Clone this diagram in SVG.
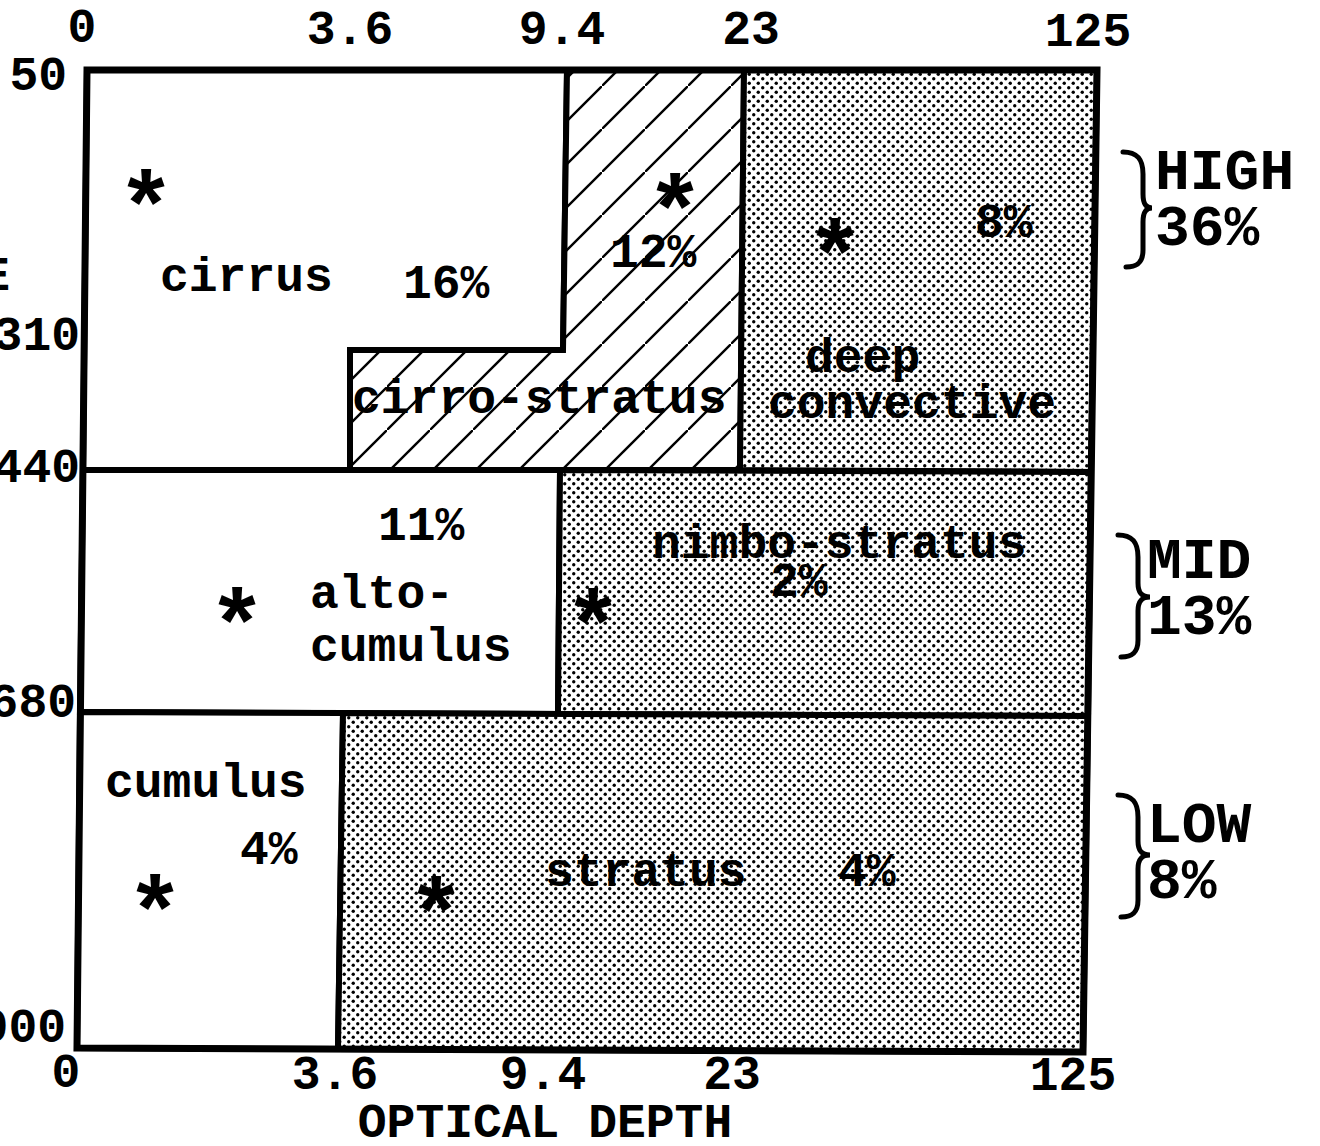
<svg xmlns="http://www.w3.org/2000/svg" width="1320" height="1146" viewBox="0 0 1320 1146">
<style>
text{font-family:"Liberation Mono","Courier New",monospace;font-weight:bold;fill:#000}
.lbl{font-size:48px}
.ax{font-size:48px}
.big{font-size:58px}
.star{font-size:96px;text-anchor:middle}
.reg{stroke:#000;stroke-width:6;stroke-linejoin:miter}
.brace{fill:none;stroke:#000;stroke-width:5;stroke-linecap:round}
</style>
<defs>
<pattern id="dots" width="9" height="9" patternUnits="userSpaceOnUse">
<rect width="9" height="9" fill="#fff"/>
<circle cx="2.25" cy="2.25" r="1.7" fill="#000"/>
<circle cx="6.75" cy="6.75" r="1.7" fill="#000"/>
</pattern>
<pattern id="hatch" width="43" height="43" patternUnits="userSpaceOnUse">
<rect width="43" height="43" fill="#fff"/>
<path d="M-5,48 L48,-5" stroke="#000" stroke-width="2.4"/>
</pattern>
</defs>
<rect width="1320" height="1146" fill="#fff"/>

<g id="cirrus">
<polygon class="reg" fill="#fff" points="87,70 567,70 563,350 350,350 350,470 83,470"/>
<text class="lbl" x="160" y="291">cirrus</text>
<text class="lbl" x="403" y="298">16%</text>
<text class="star" x="146" y="239">*</text>
</g>
<g id="cirro-stratus">
<polygon class="reg" fill="url(#hatch)" points="567,70 744,70 740,470 350,470 350,350 563,350"/>
<text class="lbl" x="352" y="413">cirro-stratus</text>
<text class="lbl" x="610" y="267">12%</text>
<text class="star" x="675" y="243">*</text>
</g>
<g id="deep-convective">
<polygon class="reg" fill="url(#dots)" points="744,70 1097,70 1091,472 740,470"/>
<text class="lbl" x="805" y="372">deep</text>
<text class="lbl" x="768" y="418">convective</text>
<text class="lbl" x="975" y="237">8%</text>
<text class="star" x="835" y="288">*</text>
</g>
<g id="alto-cumulus">
<polygon class="reg" fill="#fff" points="83,470 560,470 558,714 80,712"/>
<text class="lbl" x="378" y="540">11%</text>
<text class="lbl" x="310" y="608">alto-</text>
<text class="lbl" x="310" y="661">cumulus</text>
<text class="star" x="237" y="657">*</text>
</g>
<g id="nimbo-stratus">
<polygon class="reg" fill="url(#dots)" points="560,470 1091,472 1088,716 558,714"/>
<text class="lbl" x="652" y="558">nimbo-stratus</text>
<text class="lbl" x="770" y="596">2%</text>
<text class="star" x="593" y="658">*</text>
</g>
<g id="cumulus">
<polygon class="reg" fill="#fff" points="80,712 343,713 338,1049 77,1048"/>
<text class="lbl" x="105" y="797">cumulus</text>
<text class="lbl" x="240" y="864">4%</text>
<text class="star" x="155" y="944">*</text>
</g>
<g id="stratus">
<polygon class="reg" fill="url(#dots)" points="343,713 1088,716 1083,1052 338,1049"/>
<text class="lbl" x="545" y="886">stratus</text>
<text class="lbl" x="838" y="886">4%</text>
<text class="star" x="436" y="946">*</text>
</g>

<g id="frame">
<polygon points="87,70 1097,70 1083,1052 77,1048" fill="none" stroke="#000" stroke-width="7"/>
</g>

<g id="top-axis">
<text class="ax" x="82" y="42" text-anchor="middle">0</text>
<text class="ax" x="350" y="44" text-anchor="middle">3.6</text>
<text class="ax" x="562" y="44" text-anchor="middle">9.4</text>
<text class="ax" x="751" y="44" text-anchor="middle">23</text>
<text class="ax" x="1088" y="46" text-anchor="middle">125</text>
</g>
<g id="left-axis">
<text class="ax" x="67" y="90" text-anchor="end">50</text>
<text class="ax" x="10" y="290" text-anchor="end">E</text>
<text class="ax" x="80" y="350" text-anchor="end">310</text>
<text class="ax" x="80" y="482" text-anchor="end">440</text>
<text class="ax" x="76" y="717" text-anchor="end">680</text>
<text class="ax" x="66" y="1042" text-anchor="end">1000</text>
</g>
<g id="bottom-axis">
<text class="ax" x="66" y="1087" text-anchor="middle">0</text>
<text class="ax" x="335" y="1089" text-anchor="middle">3.6</text>
<text class="ax" x="543" y="1089" text-anchor="middle">9.4</text>
<text class="ax" x="732" y="1089" text-anchor="middle">23</text>
<text class="ax" x="1073" y="1090" text-anchor="middle">125</text>
<text class="ax" x="545" y="1137" text-anchor="middle">OPTICAL DEPTH</text>
</g>

<g id="connectors">
<path class="brace" d="M1123,152 C1138,152 1143,160 1143,174 L1143,194 C1143,204 1146,208 1152,208 C1146,208 1143,212 1143,222 L1143,250 C1143,262 1138,267 1126,267"/>
<path class="brace" d="M1118,535 C1133,535 1138,543 1138,557 L1138,583 C1138,593 1142,597 1150,597 C1142,597 1138,601 1138,611 L1138,640 C1138,652 1133,657 1121,657"/>
<path class="brace" d="M1118,795 C1133,795 1138,803 1138,817 L1138,841 C1138,851 1142,855 1150,855 C1142,855 1138,859 1138,869 L1138,900 C1138,912 1133,917 1121,917"/>
</g>
<g id="high">
<text class="big" x="1155" y="189">HIGH</text>
<text class="big" x="1155" y="245">36%</text>
</g>
<g id="mid">
<text class="big" x="1147" y="578">MID</text>
<text class="big" x="1147" y="634">13%</text>
</g>
<g id="low">
<text class="big" x="1147" y="842">LOW</text>
<text class="big" x="1147" y="898">8%</text>
</g>
</svg>
